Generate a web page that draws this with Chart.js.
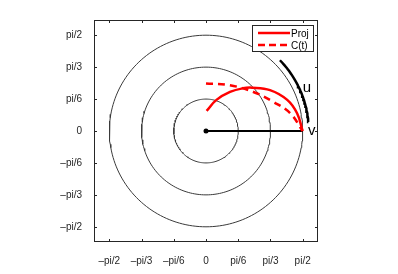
<!DOCTYPE html>
<html>
<head>
<meta charset="utf-8">
<script src="https://cdn.jsdelivr.net/npm/chart.js@4.4.0/dist/chart.umd.min.js"></script>
<style>
  html, body { margin: 0; padding: 0; background: #fff; }
  #wrap { width: 398px; height: 274px; }
</style>
</head>
<body>
<div id="wrap"><canvas id="chart" width="398" height="274"></canvas></div>
<script>
// tick positions (multiples of pi/6) and their labels
const tickSteps = [-3, -2, -1, 0, 1, 2, 3];
const tickLabels = ['\u2013pi/2', '\u2013pi/3', '\u2013pi/6', '0', 'pi/6', 'pi/3', 'pi/2'];

// reference circles
const circleRadii = [Math.PI / 6, Math.PI / 3, Math.PI / 2];

// Proj curve
const projX = [0.01, 0.17, 0.39, 0.60, 0.75, 1.04, 1.32, 1.48, 1.57];
const projY = [0.33, 0.51, 0.64, 0.70, 0.71, 0.67, 0.51, 0.29, 0.00];

// C(t) curve
const ctX = [0.00, 0.39, 0.77, 1.09, 1.37, 1.57];
const ctY = [0.78, 0.75, 0.64, 0.48, 0.29, 0.00];

// vector v
const vX = [0, Math.PI / 2];
const vY = [0, 0];

// arc u (radius, start/end angle in degrees)
const uRadius = 1.67;
const uAngles = [5, 44];

const axisLimit = 1.82;

function arcPoints(r, a0, a1, n) {
    const pts = [];
    for (let i = 0; i <= n; i++) {
        const a = (a0 + (a1 - a0) * i / n) * Math.PI / 180;
        pts.push({ x: r * Math.cos(a), y: r * Math.sin(a) });
    }
    return pts;
}

function zip(xs, ys) {
    return xs.map((x, i) => ({ x: x, y: ys[i] }));
}

const datasets = [];
circleRadii.forEach(r => {
    datasets.push({
        label: 'circle',
        data: arcPoints(r, 0, 360, 180),
        borderColor: '#3a3a3a',
        borderWidth: 1,
        pointRadius: 0,
        showLine: true,
        order: 5
    });
});
datasets.push({
    label: 'v',
    data: zip(vX, vY),
    borderColor: '#000',
    borderWidth: 2,
    pointRadius: [2.5, 0],
    pointBackgroundColor: '#000',
    pointBorderWidth: 0,
    showLine: true,
    order: 4
});
datasets.push({
    label: 'u',
    data: arcPoints(uRadius, uAngles[0], uAngles[1], 40),
    borderColor: '#000',
    borderWidth: 2.5,
    pointRadius: 0,
    showLine: true,
    order: 3
});
datasets.push({
    label: 'C(t)',
    data: zip(ctX, ctY),
    borderColor: '#ff0000',
    borderWidth: 2.5,
    borderDash: [7, 5],
    pointRadius: 0,
    showLine: true,
    tension: 0.4,
    order: 2
});
datasets.push({
    label: 'Proj',
    data: zip(projX, projY),
    borderColor: '#ff0000',
    borderWidth: 2.5,
    pointRadius: 0,
    showLine: true,
    tension: 0.4,
    order: 1
});

// box, inward ticks, text labels and legend
const decorations = {
    id: 'decorations',
    afterDraw(chart) {
        const ctx = chart.ctx;
        const a = chart.chartArea;
        const xs = chart.scales.x, ys = chart.scales.y;
        ctx.save();
        ctx.strokeStyle = '#262626';
        ctx.lineWidth = 1;
        ctx.strokeRect(a.left + 0.5, a.top + 0.5, a.right - a.left - 1, a.bottom - a.top - 1);
        ctx.beginPath();
        tickSteps.forEach(k => {
            const v = k * Math.PI / 6;
            const px = Math.round(xs.getPixelForValue(v)) + 0.5;
            ctx.moveTo(px, a.bottom); ctx.lineTo(px, a.bottom - 3);
            ctx.moveTo(px, a.top); ctx.lineTo(px, a.top + 3);
            const py = Math.round(ys.getPixelForValue(v)) + 0.5;
            ctx.moveTo(a.left, py); ctx.lineTo(a.left + 3, py);
            ctx.moveTo(a.right, py); ctx.lineTo(a.right - 3, py);
        });
        ctx.stroke();

        // labels u and v
        ctx.fillStyle = '#000';
        ctx.font = '15px "Liberation Sans", Arial, sans-serif';
        ctx.textBaseline = 'middle';
        ctx.textAlign = 'center';
        ctx.fillText('u', xs.getPixelForValue(1.64), ys.getPixelForValue(0.70));
        ctx.fillText('v', xs.getPixelForValue(1.72), ys.getPixelForValue(0.0));

        // legend
        const lx = 252, ly = 25, lw = 61, lh = 26;
        ctx.fillStyle = '#fff';
        ctx.fillRect(lx, ly, lw, lh);
        ctx.strokeStyle = '#262626';
        ctx.strokeRect(lx + 0.5, ly + 0.5, lw, lh);
        const entries = [
            { label: 'Proj', dash: [], y: ly + 8 },
            { label: 'C(t)', dash: [7, 4], y: ly + 20 }
        ];
        ctx.font = '10px "Liberation Sans", Arial, sans-serif';
        ctx.textAlign = 'left';
        entries.forEach(e => {
            ctx.strokeStyle = '#ff0000';
            ctx.lineWidth = 2.5;
            ctx.setLineDash(e.dash);
            ctx.beginPath();
            ctx.moveTo(lx + 6, e.y);
            ctx.lineTo(lx + 38, e.y);
            ctx.stroke();
            ctx.setLineDash([]);
            ctx.fillStyle = '#000';
            ctx.fillText(e.label, lx + 39, e.y + 1);
        });
        ctx.restore();
    }
};

function setTicks(scale) {
    scale.ticks = tickSteps.map(k => ({ value: k * Math.PI / 6 }));
}

const chart = new Chart(document.getElementById('chart').getContext('2d'), {
    type: 'scatter',
    data: { datasets: datasets },
    options: {
        responsive: false,
        animation: false,
        layout: { padding: { top: 20, right: 80, left: 0, bottom: 0 } },
        plugins: {
            legend: { display: false },
            tooltip: { enabled: false }
        },
        scales: {
            x: {
                type: 'linear',
                min: -axisLimit,
                max: axisLimit,
                afterBuildTicks: setTicks,
                afterFit: s => { s.height = 32; },
                grid: { display: false },
                border: { display: false },
                ticks: {
                    color: '#262626',
                    font: { family: '"Liberation Sans", Arial, sans-serif', size: 10 },
                    padding: 5,
                    maxRotation: 0,
                    callback: (v, i) => tickLabels[i]
                }
            },
            y: {
                type: 'linear',
                min: -axisLimit,
                max: axisLimit,
                afterBuildTicks: setTicks,
                afterFit: s => { s.width = 94; },
                grid: { display: false },
                border: { display: false },
                ticks: {
                    color: '#262626',
                    font: { family: '"Liberation Sans", Arial, sans-serif', size: 10 },
                    padding: 4,
                    callback: (v, i) => tickLabels[i]
                }
            }
        }
    },
    plugins: [decorations]
});
</script>
</body>
</html>
